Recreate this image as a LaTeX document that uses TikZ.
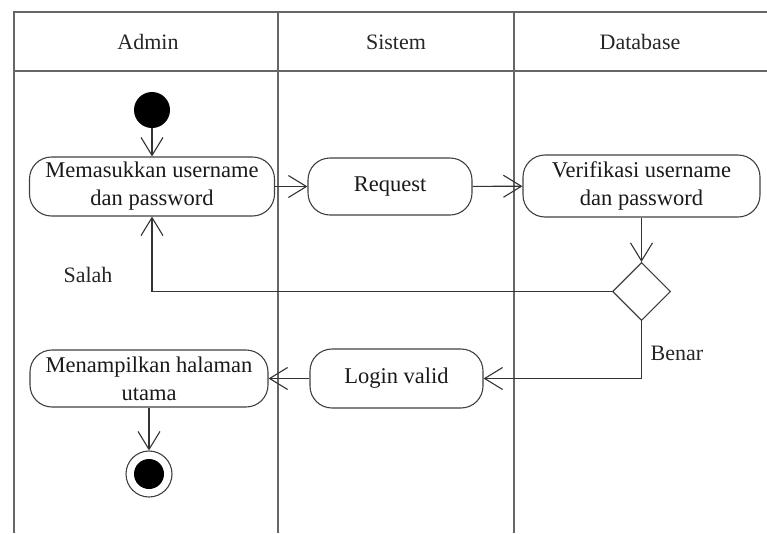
\documentclass[tikz,border=0pt]{standalone}
\usepackage{fontspec}
\setmainfont{Liberation Serif}
\usetikzlibrary{arrows.meta,shapes.geometric}
\begin{document}
\begin{tikzpicture}[x=1pt,y=-1pt,
  lane/.style={draw=black!60, line width=1.5pt},
  act/.style={draw=black!75, line width=1.1pt, rounded corners=22pt, align=center,
    inner sep=0pt, font=\fontsize{22.5}{28}\selectfont, text=black!90},
  flow/.style={draw=black!80, line width=1.1pt, -{Straight Barb[length=18pt,width=22pt,line width=1.1pt]}},
  lbl/.style={font=\fontsize{22}{26}\selectfont, text=black!85},
  hdr/.style={font=\fontsize{22}{26}\selectfont, text=black!85},
  dec/.style={diamond, draw=black!75, line width=1.1pt, minimum width=58pt, minimum height=58pt, inner sep=0pt},
  startnode/.style={circle, fill=black, minimum size=36pt, inner sep=0pt},
  endouter/.style={circle, draw=black!75, line width=1.1pt, minimum size=46pt, inner sep=0pt}
]
\useasboundingbox (0,0) rectangle (767,533);
% swimlanes
\draw[lane] (767,12) -- (14,12) -- (14,533);
\draw[lane] (14,71) -- (767,71);
\draw[lane] (278,12) -- (278,533);
\draw[lane] (514,12) -- (514,533);
\node[hdr] (hA) at (148,42) {Admin};
\node[hdr] (hS) at (396,42) {Sistem};
\node[hdr] (hD) at (640,42) {Database};
% nodes
\node[startnode] (start) at (152,110) {};
\node[act, minimum width=245pt, minimum height=59pt] (mem) at (152,186.5) {Memasukkan username\\dan password};
\node[act, minimum width=164pt, minimum height=57pt] (req) at (390,186.5) {Request};
\node[act, minimum width=237pt, minimum height=62pt] (ver) at (641.5,186) {Verifikasi username\\dan password};
\node[dec] (d) at (641.5,291.5) {};
\node[act, minimum width=173pt, minimum height=59pt] (login) at (396.5,378.5) {Login valid};
\node[act, minimum width=238pt, minimum height=57pt] (men) at (149,378.5) {Menampilkan halaman\\utama};
\node[endouter] (end) at (149,474) {};
\node[circle, fill=black, minimum size=30pt, inner sep=0pt] (endin) at (end) {};
% labels
\node[lbl] (salah) at (88,275) {Salah};
\node[lbl] (benar) at (677,353) {Benar};
% flows
\draw[flow] (start) -- (mem);
\draw[flow] (mem) -- (req);
\draw[flow] (req) -- (ver);
\draw[flow] (ver) -- (d);
\draw[flow] (d.west) -| (mem.south);
\draw[flow] (d.south) |- (login.east);
\draw[flow] (login) -- (men);
\draw[flow] (men.south) -- (end.north);
\end{tikzpicture}
\end{document}
